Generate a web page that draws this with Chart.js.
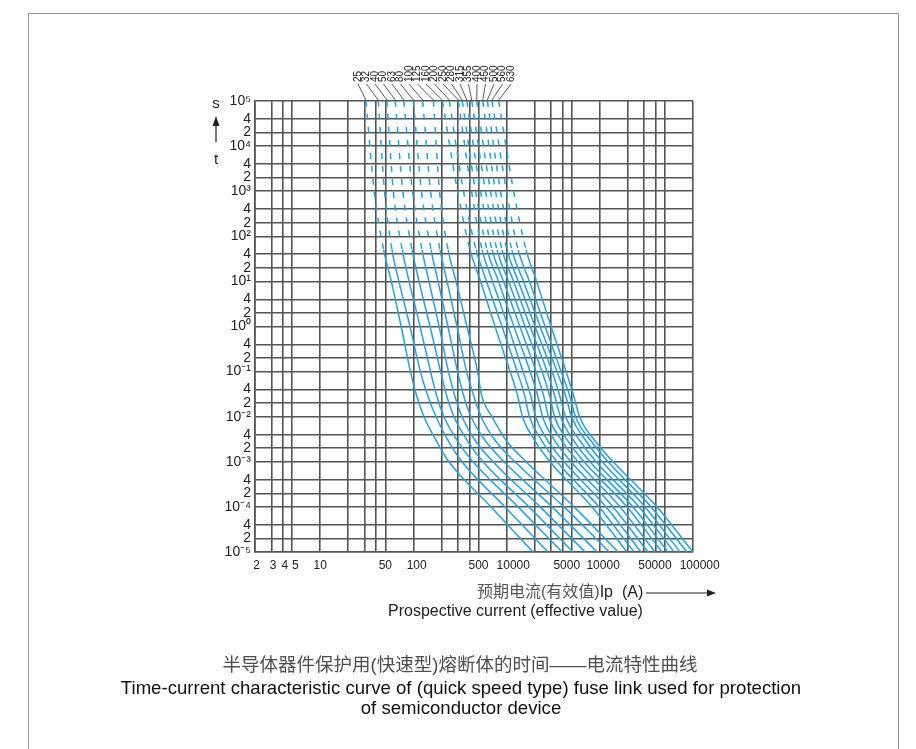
<!DOCTYPE html>
<html>
<head>
<meta charset="utf-8">
<script src="https://cdn.jsdelivr.net/npm/chart.js@4.4.1/dist/chart.umd.min.js"></script>
<style>
  html, body { margin: 0; padding: 0; background: #fff; }
  body { width: 916px; height: 749px; position: relative; overflow: hidden;
         font-family: 'Liberation Sans', Arial, 'Noto Sans CJK SC', sans-serif; }
  #frame { position: absolute; left: 28px; top: 13px; width: 869px; height: 760px; border: 1px solid #9a9a9a; }
  #wrap { position: absolute; left: 0; top: 0; width: 916px; height: 749px; }
  .txt { position: absolute; white-space: nowrap; }
  #xcn { left: 477px; top: 582px; font-size: 16px; line-height: 20px; color: #555; }
  #xcn b { font-weight: normal; color: #222; }
  #arrow { position: absolute; left: 646px; top: 588px; }
  #xen { left: 388px; top: 602px; font-size: 16px; line-height: 18px; color: #222; }
  #capcn { left: 0; width: 920px; text-align: center; top: 650px; font-size: 18.5px; color: #4f4f4f; }
  #capen { left: 0; width: 922px; text-align: center; top: 678px; font-size: 18.6px; line-height: 20px; color: #111; }
</style>
</head>
<body>
<div id="frame"></div>
<div id="wrap"><canvas id="chart"></canvas></div>
<div class="txt" id="xcn">预期电流(有效值)<b>Ip&nbsp;&nbsp;(A)</b></div>
<svg id="arrow" width="72" height="10"><line x1="0" y1="5" x2="62" y2="5" stroke="#222" stroke-width="1.2"/><polygon points="70,5 61,1.5 61,8.5" fill="#222"/></svg>
<div class="txt" id="xen">Prospective current (effective value)</div>
<div class="txt" id="capcn">半导体器件保护用(快速型)熔断体的时间——电流特性曲线</div>
<div class="txt" id="capen">Time-current characteristic curve of (quick speed type) fuse link used for protection<br>of semiconductor device</div>

<script>
'use strict';

// ── data ──
// pre-arcing time levels (s), top to bottom
const T_LEVELS = [1e5, 1e3, 50, 10, 1, 0.1, 0.03, 0.01, 0.003, 0.001, 1e-4, 1e-5];

// rated currents (A), one curve each
const RATINGS = [25, 32, 40, 50, 63, 80, 100, 125, 160, 200, 250, 280, 315, 355, 400, 450, 500, 560, 630];

// prospective current (A) at each time level
const I25  = [31, 38, 48, 58, 74, 93, 108, 130, 175, 241, 681, 1920];
const I32  = [42, 49, 59, 70, 92, 119, 142, 175, 235, 333, 962, 2780];
const I40  = [52, 61, 76, 90, 118, 153, 177, 213, 294, 437, 1330, 3940];
const I50  = [64, 77, 97, 115, 151, 196, 227, 273, 377, 559, 1740, 5170];
const I63  = [79, 98, 124, 147, 189, 238, 277, 333, 459, 716, 2290, 6950];
const I80  = [100, 122, 155, 184, 235, 298, 345, 416, 587, 939, 3080, 9350];
const I100 = [126, 153, 193, 230, 294, 372, 442, 532, 752, 1230, 4140, 12600];
const I125 = [164, 191, 236, 287, 376, 488, 539, 698, 987, 1620, 5300, 15700];
const I160 = [205, 298, 406, 526, 752, 1090, 1310, 1480, 2000, 2930, 8260, 19600];
const I200 = [243, 345, 471, 610, 894, 1300, 1560, 1760, 2370, 3480, 9820, 23300];
const I250 = [304, 421, 546, 708, 1040, 1500, 1810, 2050, 2750, 4140, 11700, 27700];
const I280 = [335, 464, 617, 821, 1200, 1790, 2150, 2430, 3270, 4920, 13900, 32900];
const I315 = [374, 526, 698, 928, 1390, 2070, 2490, 2820, 3890, 5850, 16500, 39100];
const I355 = [423, 595, 790, 1050, 1580, 2400, 2890, 3270, 4510, 6780, 19600, 46500];
const I400 = [479, 673, 894, 1190, 1790, 2720, 3270, 3790, 5230, 7860, 22700, 53900];
const I450 = [555, 761, 1010, 1340, 2020, 3080, 3700, 4290, 6070, 9120, 26400, 62600];
const I500 = [622, 861, 1140, 1520, 2290, 3480, 4290, 4980, 7030, 10600, 30600, 72500];
const I560 = [698, 999, 1330, 1760, 2590, 3840, 4740, 5490, 7960, 12300, 35500, 86200];
const I630 = [824, 1190, 1620, 2100, 3000, 4350, 5230, 6070, 8790, 13900, 41100, 100000];

const CURVES = [I25, I32, I40, I50, I63, I80, I100, I125, I160, I200,
                I250, I280, I315, I355, I400, I450, I500, I560, I630];

// grid / tick positions
const X_TICKS  = [2, 3, 4, 5, 10, 20, 30, 40, 50, 100, 200, 300, 400, 500,
                  1000, 2000, 3000, 4000, 5000, 10000, 20000, 30000, 40000, 50000, 100000];
const X_LABELS = ['2', '3', '4', '5', '10', '', '', '', '50', '100', '', '', '', '500',
                  '10000', '', '', '', '5000', '10000', '', '', '', '50000', '100000'];
const Y_TICKS  = [1e-5, 2e-5, 4e-5, 1e-4, 2e-4, 4e-4, 1e-3, 2e-3, 4e-3, 1e-2, 2e-2, 4e-2,
                  0.1, 0.2, 0.4, 1, 2, 4, 10, 20, 40, 100, 200, 400,
                  1e3, 2e3, 4e3, 1e4, 2e4, 4e4, 1e5];

// label nudges in the original print (in spaces, + = right, - = left)
const X_LABEL_NUDGE = [1, 1, 1, 2, 0, 0, 0, 0, 0, 2, 0, 0, 0, 0,
                       4, 0, 0, 0, -3, 2, 0, 0, 0, -6, 4];

const SUP = { '-': '\u207B', '0': '\u2070', '1': '\u00B9', '2': '\u00B2', '3': '\u00B3', '4': '\u2074', '5': '\u2075' };
const CURVE_COLOR = '#27a2dc';
const GRID_COLOR = '#555';

Chart.defaults.font.family = "'Liberation Sans', Arial, sans-serif";
Chart.defaults.color = '#222';

function yLabel(v) {
    const e = Math.floor(Math.log10(v) + 1e-9);
    const m = Math.round(v / Math.pow(10, e));
    if (m === 1) return '10' + String(e).split('').map(c => SUP[c]).join('');
    return String(m);
}

function xLabel(i) {
    const txt = X_LABELS[i];
    const n = X_LABEL_NUDGE[i];
    if (!txt || !n) return txt;
    const pad = '\u00A0'.repeat(Math.abs(n));
    return n > 0 ? pad + txt : txt + pad;
}

// rating labels on top, leader lines, and the s/t axis symbol
const overlay = {
  id: 'overlay',
  afterDraw(chart) {
    const { ctx, chartArea, scales } = chart;
    ctx.save();
    ctx.fillStyle = '#222';
    ctx.strokeStyle = '#222';
    ctx.font = "15px 'Liberation Sans', Arial, sans-serif";
    ctx.textAlign = 'center';
    ctx.textBaseline = 'middle';
    ctx.fillText('s', 216, 104);
    ctx.fillText('t', 216, 160);
    ctx.lineWidth = 1.2;
    ctx.beginPath(); ctx.moveTo(216, 142); ctx.lineTo(216, 124); ctx.stroke();
    ctx.beginPath(); ctx.moveTo(216, 116); ctx.lineTo(212.5, 126); ctx.lineTo(219.5, 126); ctx.closePath(); ctx.fill();

    ctx.font = "10px 'Liberation Sans', Arial, sans-serif";
    ctx.lineWidth = 0.8;
    ctx.strokeStyle = '#333';
    RATINGS.forEach((r, i) => {
      const lx = 358 + i * 8.5;
      const px = scales.x.getPixelForValue(CURVES[i][0]);
      ctx.beginPath();
      ctx.moveTo(lx, 84);
      ctx.lineTo(px, chartArea.top - 1);
      ctx.stroke();
      ctx.save();
      ctx.translate(lx, 82);
      ctx.rotate(-Math.PI / 2);
      ctx.textAlign = 'left';
      ctx.textBaseline = 'middle';
      ctx.fillText(String(r), 0, 0);
      ctx.restore();
    });
    ctx.restore();
  }
};

const datasets = CURVES.map((cur, i) => ({
  label: RATINGS[i] + ' A',
  data: cur.map((v, j) => ({ x: v, y: T_LEVELS[j] })),
  borderColor: CURVE_COLOR,
  backgroundColor: CURVE_COLOR,
  borderWidth: 1.5,
  pointRadius: 0,
  cubicInterpolationMode: 'monotone',
  fill: false,
  // the long-time part is drawn dashed
  segment: { borderDash: ctx => ctx.p0DataIndex < 2 ? [6, 7] : undefined }
}));

new Chart(document.getElementById('chart'), {
  type: 'line',
  data: { datasets },
  options: {
    responsive: true,
    maintainAspectRatio: false,
    animation: false,
    devicePixelRatio: 1,
    layout: { padding: { top: 101, left: 0, right: 223, bottom: 167 } },
    plugins: { legend: { display: false }, tooltip: { enabled: false } },
    scales: {
      x: {
        type: 'logarithmic',
        min: 2, max: 100000,
        afterBuildTicks: s => { s.ticks = X_TICKS.map(v => ({ value: v })); },
        afterFit: s => { s.height = 30; },
        grid: { color: GRID_COLOR, lineWidth: 1.6, drawTicks: false },
        border: { color: GRID_COLOR, width: 1.6 },
        ticks: {
          autoSkip: false, maxRotation: 0, padding: 6,
          font: { size: 12 }, color: '#222',
          callback: (v, i) => xLabel(i)
        }
      },
      y: {
        type: 'logarithmic',
        min: 1e-5, max: 1e5,
        afterBuildTicks: s => { s.ticks = Y_TICKS.map(v => ({ value: v })); },
        afterFit: s => { s.width = 255; },
        grid: { color: GRID_COLOR, lineWidth: 1.6, drawTicks: false },
        border: { color: GRID_COLOR, width: 1.6 },
        ticks: {
          autoSkip: false, padding: 4,
          font: { size: 14 }, color: '#222',
          callback: v => yLabel(v)
        }
      }
    }
  },
  plugins: [overlay]
});
</script>
</body>
</html>
